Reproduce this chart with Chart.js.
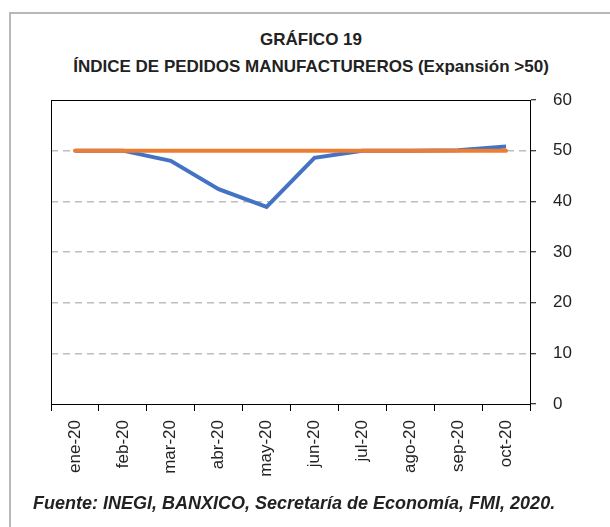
<!DOCTYPE html>
<html>
<head>
<meta charset="utf-8">
<script src="https://cdn.jsdelivr.net/npm/chart.js@4"></script>
<style>
  html, body { margin: 0; padding: 0; background: #fff; }
  body { width: 610px; height: 527px; overflow: hidden; position: relative; font-family: 'Liberation Sans', Arial, sans-serif; }
  #frame { position: absolute; left: 9px; top: 12px; width: 700px; height: 600px; border: 2px solid #b8b8b8; box-sizing: border-box; }
  .title { position: absolute; left: 0; width: 622px; text-align: center; font-weight: bold; font-size: 17px; line-height: 20px; color: #222; }
  #source { position: absolute; left: 33px; top: 493px; font-size: 18px; line-height: 20px; font-weight: bold; font-style: italic; color: #222; white-space: nowrap; }
  #chart { position: absolute; left: 0; top: 0; }
</style>
</head>
<body>
<div id="frame"></div>
<div class="title" style="top:30px">GRÁFICO 19</div>
<div class="title" style="top:57px">ÍNDICE DE PEDIDOS MANUFACTUREROS (Expansión &gt;50)</div>
<canvas id="chart" width="610" height="527"></canvas>
<div id="source">Fuente: INEGI, BANXICO, Secretaría de Economía, FMI, 2020.</div>
<script>
const months = ['ene-20', 'feb-20', 'mar-20', 'abr-20', 'may-20', 'jun-20', 'jul-20', 'ago-20', 'sep-20', 'oct-20'];
const pedidos = [50.0, 50.0, 48.0, 42.4, 38.9, 48.6, 50.0, 50.0, 50.1, 50.8];
const umbral = [50, 50, 50, 50, 50, 50, 50, 50, 50, 50];
const yTicks = [0, 10, 20, 30, 40, 50, 60];

Chart.defaults.font.family = "'Liberation Sans', Arial, sans-serif";
Chart.defaults.color = '#222';

const ctx = document.getElementById('chart');

new Chart(ctx, {
  type: 'line',
  data: {
    labels: months,
    datasets: [
      {
        label: 'Índice de pedidos',
        data: pedidos,
        borderColor: '#4472C4',
        backgroundColor: '#4472C4',
        borderWidth: 4,
        pointRadius: 0,
        order: 1,
      },
      {
        label: 'Umbral 50',
        data: umbral,
        borderColor: '#ED7D31',
        backgroundColor: '#ED7D31',
        borderWidth: 4,
        borderCapStyle: 'round',
        pointRadius: 0,
        order: 0,
      },
    ],
  },
  options: {
    responsive: false,
    devicePixelRatio: 1,
    animation: false,
    layout: { padding: { left: 51, top: 100, right: 0, bottom: 0 } },
    plugins: { legend: { display: false }, tooltip: { enabled: false } },
    scales: {
      x: {
        type: 'category',
        position: 'bottom',
        offset: true,
        grid: { offset: true, drawOnChartArea: false, tickLength: 7, tickColor: '#000' },
        border: { color: '#000', width: 1 },
        ticks: { minRotation: 90, maxRotation: 90, autoSkip: false, padding: 9, font: { size: 17 }, color: '#222' },
        afterFit: scale => { scale.height = 123; },
      },
      // top frame line of the plot
      x2: {
        type: 'category',
        position: 'top',
        display: true,
        grid: { drawOnChartArea: false, drawTicks: false },
        border: { color: '#000', width: 1 },
        ticks: { display: false },
      },
      y: {
        position: 'right',
        min: 0,
        max: 60,
        afterBuildTicks: scale => { scale.ticks = yTicks.map(v => ({ value: v })); },
        grid: {
          color: c => (c.tick && (c.tick.value === 0 || c.tick.value === 60)) ? 'rgba(0,0,0,0)' : '#bdbdbd',
          lineWidth: 1.5,
          tickLength: 6,
          tickColor: '#000',
          tickWidth: 1,
          tickBorderDash: [],
        },
        border: { color: '#000', width: 1, dash: [7, 5] },
        ticks: { padding: 17, font: { size: 17 }, color: '#222' },
        afterFit: scale => { scale.width = 80; },
      },
      // left frame line of the plot
      y2: {
        position: 'left',
        display: true,
        grid: { drawOnChartArea: false, drawTicks: false },
        border: { color: '#000', width: 1 },
        ticks: { display: false },
      },
    },
  },
});
</script>
</body>
</html>
